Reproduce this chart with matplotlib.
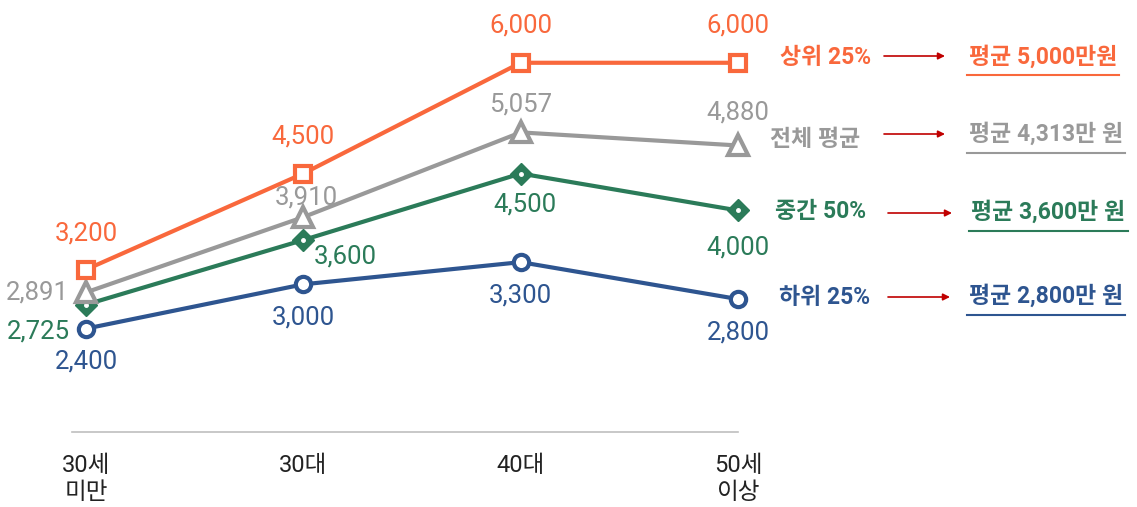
import matplotlib
matplotlib.use("Agg")
import matplotlib.pyplot as plt

plt.rcParams['font.family'] = ['Roboto', 'Noto Sans CJK KR', 'DejaVu Sans']

# 데이터
categories = ["30세\n미만", "30대", "40대", "50세\n이상"]
top25 = [3200, 4500, 6000, 6000]
overall = [2891, 3910, 5057, 4880]
mid50 = [2725, 3600, 4500, 4000]
bottom25 = [2400, 3000, 3300, 2800]

series_names = ["상위 25%", "전체 평균", "중간 50%", "하위 25%"]
series_avgs = ["평균 5,000만원", "평균 4,313만 원", "평균 3,600만 원", "평균 2,800만 원"]

ORANGE = "#F9683C"
GRAY = "#999999"
GREEN = "#2B7B59"
BLUE = "#2E5590"
RED = "#C00000"

W, H = 1137, 507
fig = plt.figure(figsize=(W / 100, H / 100), dpi=100)
ax = fig.add_axes([0, 1 - 432 / H, 1, 432 / H])
x = list(range(len(categories)))

# 선 그리기 (아래부터)
ax.plot(x, bottom25, color=BLUE, lw=3, marker='o', ms=11, mfc='white', mec=BLUE, mew=3, zorder=3)
ax.plot(x, mid50, color=GREEN, lw=3, marker='D', ms=11, mfc=GREEN, mec=GREEN, zorder=4)
ax.plot(x, mid50, ls='none', marker='o', ms=2.5, mfc='white', mec='white', zorder=4)
ax.plot(x, overall, color=GRAY, lw=3, marker='^', ms=14, mfc='white', mec=GRAY, mew=3, zorder=5)
ax.plot(x, top25, color=ORANGE, lw=3, marker='s', ms=12, mfc='white', mec=ORANGE, mew=3, zorder=6)

# 값 라벨 (offset in points)
label_specs = [
    (top25, ORANGE, [(0, 26), (0, 27), (0, 27), (0, 27)]),
    (overall, GRAY, [(-35, 0), (2, 14), (0, 20), (0, 24)]),
    (mid50, GREEN, [(-34, -19), (30, -12), (3, -22), (0, -27)]),
    (bottom25, BLUE, [(0, -24), (0, -24), (0, -24), (0, -24)]),
]
for vals, col, offs in label_specs:
    for i, v in enumerate(vals):
        ax.annotate(f"{v:,}", (i, v), xytext=offs[i], textcoords='offset points',
                    ha='center', va='center', fontsize=18.5, color=col, zorder=2)

ax.set_xlim(-0.396, 4.836)
ax.set_ylim(1000, 6850)
for s in ['top', 'right', 'left']:
    ax.spines[s].set_visible(False)
ax.spines['bottom'].set_color('#BFBFBF')
ax.spines['bottom'].set_linewidth(1.2)
ax.spines['bottom'].set_bounds(-0.065, 3)
ax.set_yticks([])
ax.set_xticks(x)
ax.set_xticklabels(categories, fontsize=17, color='#222222', linespacing=1.2)
ax.tick_params(axis='x', length=0, pad=16)


def px(xp, yp):
    return (xp / W, (432 - yp) / 432)


# 오른쪽 주석
right_rows = [
    (ORANGE, 826, 57, 884, 945, 56, 1043, 57, 967, 1119, 75),
    (GRAY, 815, 140, 884, 945, 134, 1046, 134, 967, 1125, 153),
    (GREEN, 821, 212, 888, 952, 213, 1048, 212, 969, 1128, 231),
    (BLUE, 825, 297, 888, 950, 297, 1046, 296, 967, 1125, 315),
]
for (col, tx, ty, a0, a1, ay, vx, vy, u0, u1, uy), name, avg in zip(right_rows, series_names, series_avgs):
    ax.text(*px(tx, ty), name, transform=ax.transAxes, ha='center', va='center',
            fontsize=16.5, fontweight='bold', color=col)
    ax.annotate('', xy=px(a1, ay), xytext=px(a0, ay), xycoords='axes fraction',
                textcoords='axes fraction',
                arrowprops=dict(arrowstyle='-|>', color=RED, lw=1.2, mutation_scale=10,
                                shrinkA=0, shrinkB=0))
    ax.text(*px(vx, vy), avg, transform=ax.transAxes, ha='center', va='center',
            fontsize=16.5, fontweight='bold', color=col)
    ax.plot([px(u0, uy)[0], px(u1, uy)[0]], [px(u0, uy)[1]] * 2, transform=ax.transAxes,
            color=col, lw=1.5, clip_on=False)

fig.savefig("out.png", dpi=100)
